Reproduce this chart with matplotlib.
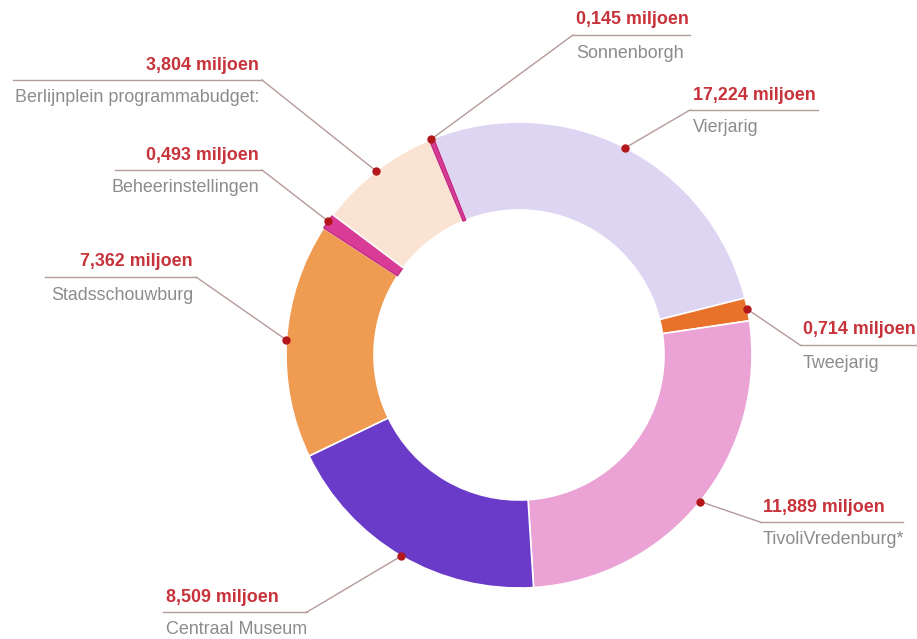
import numpy as np
import matplotlib
matplotlib.use("Agg")
import matplotlib.pyplot as plt

# Budget per category (miljoen euro), clockwise starting at Vierjarig
CATEGORIES = ["Vierjarig", "Tweejarig", "TivoliVredenburg*", "Centraal Museum",
              "Stadsschouwburg", "Beheerinstellingen",
              "Berlijnplein programmabudget:", "Sonnenborgh"]
AMOUNTS = [17.224, 0.714, 11.889, 8.509, 7.362, 0.493, 3.804, 0.145]
# Ring sizes as drawn in the picture (the Vierjarig arc is drawn smaller than its label)
SLICE_SIZES = [12.2, 0.714, 11.889, 8.509, 7.362, 0.493, 3.804, 0.145]
COLOURS = ["#ddd5f2", "#e8722a", "#eaa3d4", "#6a3ac8",
           "#f09b52", "#d93c96", "#fae3d3", "#d63c96"]

W, H = 917, 639
CENTER = (519, H - 355)
R_OUT = 233
RING_W = 88

# label layout in pixel coords from the top: (line x0, line x1, line y, connect end, text align)
LABEL_LAYOUT = [
    (690, 818, 110, "left", "left"),
    (800, 917, 345, "left", "left"),
    (760, 903, 522, "left", "left"),
    (163, 307, 612, "right", "left"),
    (45, 196, 277, "right", "right"),
    (115, 262, 170, "right", "right"),
    (13, 262, 80, "right", "right"),
    (573, 690, 35, "left", "left"),
]

RED = "#c8323a"
GREY = "#8c8c8c"
LINE = "#b59a9a"
DOT = "#b3161b"

plt.rcParams["font.family"] = ["Liberation Sans", "DejaVu Sans"]

fig = plt.figure(figsize=(W / 100, H / 100), dpi=100)
ax = fig.add_axes([0, 0, 1, 1])

wedges, _ = ax.pie(SLICE_SIZES, colors=COLOURS, startangle=111.5, counterclock=False,
                   radius=R_OUT, center=CENTER,
                   wedgeprops=dict(width=RING_W, edgecolor="white", linewidth=1.2))

# the two hairline slices carry a darker outline instead of the white gap
for w in (wedges[5], wedges[7]):
    w.set_edgecolor("#c2287f")
    w.set_linewidth(0.9)

ax.set_xlim(0, W)
ax.set_ylim(0, H)
ax.set_aspect("equal")
ax.axis("off")

for wedge, name, amount, (x0, x1, ly, conn, align) in zip(
        wedges, CATEGORIES, AMOUNTS, LABEL_LAYOUT):
    mid = np.deg2rad((wedge.theta1 + wedge.theta2) / 2)
    dx = CENTER[0] + R_OUT * np.cos(mid)
    dy = CENTER[1] + R_OUT * np.sin(mid)
    y = H - ly
    cx = x0 if conn == "left" else x1
    ax.plot([dx, cx], [dy, y], color=LINE, lw=1.0, zorder=3)
    ax.plot([x0, x1], [y, y], color=LINE, lw=1.0, zorder=3)
    ax.plot(dx, dy, "o", color=DOT, ms=5, zorder=4)

    tx = x0 + 3 if align == "left" else x1 - 3
    value = f"{amount:.3f}".replace(".", ",") + " miljoen"
    ax.text(tx, y + 15, value, ha=align, va="center", color=RED,
            fontsize=12.9, fontweight="bold")
    ax.text(tx, y - 18, name, ha=align, va="center", color=GREY, fontsize=12.9)

fig.savefig("out.png", dpi=100)
